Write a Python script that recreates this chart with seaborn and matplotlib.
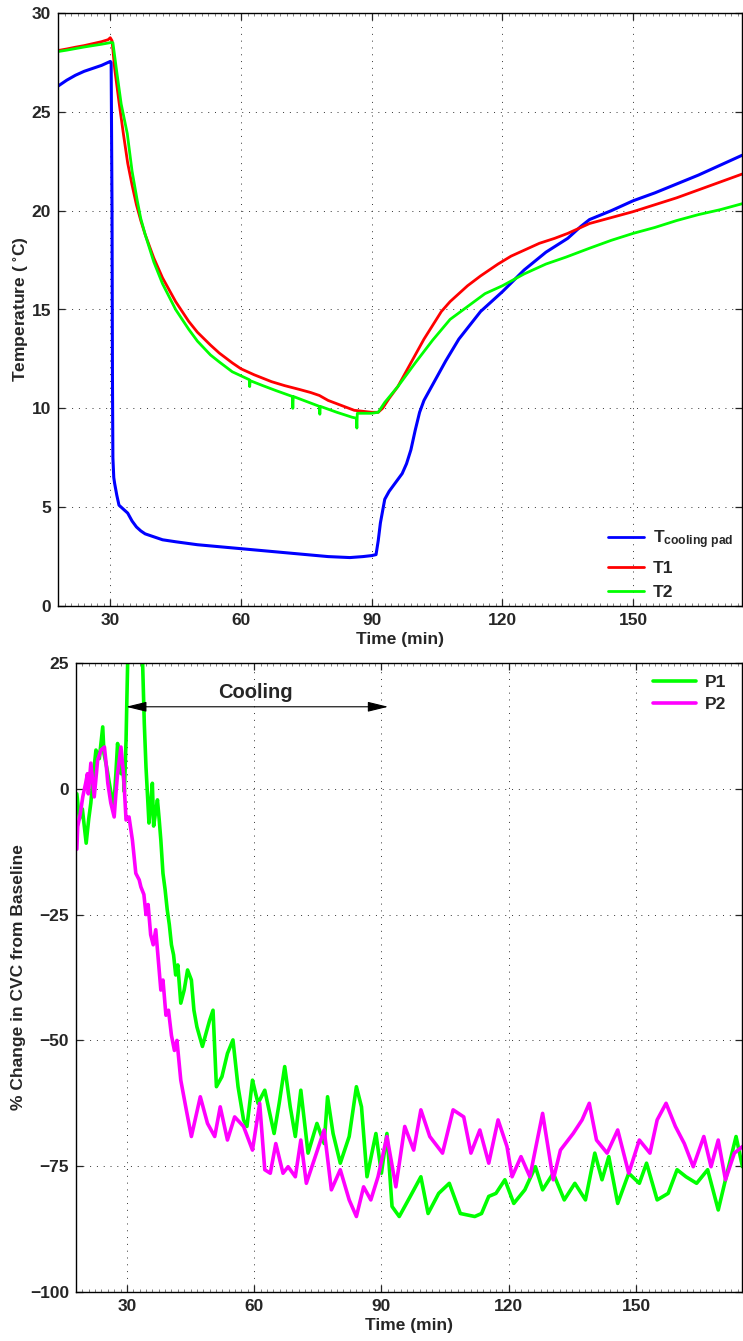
import numpy as np
import pandas as pd
import matplotlib
matplotlib.use("Agg")
import matplotlib.pyplot as plt
from matplotlib.ticker import MultipleLocator, FixedLocator
import seaborn as sns

# ---------------- data: top panel (temperature) ----------------
pad_t = [18, 20, 22, 24, 26, 28, 29.5, 30.0, 30.2, 30.4, 30.5, 30.6, 30.8, 31.0, 31.5, 32.0, 33.0,
         34.0, 35.0, 36.0, 37.0, 38.0, 40.0, 42.0, 45.0, 50.0, 55.0, 60.0, 65.0, 70.0, 75.0, 80.0,
         85.0, 88.0, 90.0, 91.0, 91.5, 92.0, 93.0, 94.0, 95.0, 97.0, 98.0, 99.0, 100.0, 101.0,
         102.0, 104.0, 107.0, 110.0, 115.0, 120.0, 125.0, 130.0, 135.0, 138.0, 140.0, 145.0,
         150.0, 155.0, 160.0, 165.0, 170.0, 175.0]
pad_T = [26.3, 26.6, 26.85, 27.05, 27.2, 27.35, 27.5, 27.55, 27.5, 20.0, 11.5, 7.5, 6.5, 6.2, 5.6,
         5.1, 4.9, 4.7, 4.3, 4.0, 3.8, 3.65, 3.5, 3.35, 3.25, 3.1, 3.0, 2.9, 2.8, 2.7, 2.6, 2.5,
         2.45, 2.5, 2.55, 2.6, 3.3, 4.2, 5.4, 5.8, 6.1, 6.7, 7.2, 7.9, 8.9, 9.8, 10.4, 11.2, 12.4,
         13.5, 14.9, 15.9, 17.0, 17.9, 18.6, 19.2, 19.55, 20.0, 20.5, 20.9, 21.35, 21.8, 22.3, 22.8]

t1_t = [18, 20, 22, 24, 26, 28, 29.5, 30.0, 30.4, 31.0, 32.0, 33.0, 34.0, 35.0, 36.0, 37.0, 38.0,
        40.0, 42.0, 45.0, 48.0, 50.0, 53.0, 55.0, 58.0, 60.0, 63.0, 67.0, 70.0, 73.5, 76.0, 78.0,
        80.0, 83.0, 86.0, 88.0, 90.0, 91.5, 92.5, 94.0, 96.0, 98.0, 100.0, 102.0, 104.0, 106.0,
        108.0, 110.0, 112.0, 115.0, 119.0, 122.0, 125.0, 128.5, 132.0, 135.0, 138.0, 140.0,
        145.0, 150.0, 155.0, 160.0, 165.0, 170.0, 175.0]
t1_T = [28.1, 28.18, 28.27, 28.35, 28.45, 28.55, 28.65, 28.75, 28.6, 27.2, 25.5, 23.9, 22.4, 21.3,
        20.3, 19.5, 18.8, 17.6, 16.6, 15.4, 14.4, 13.85, 13.2, 12.8, 12.3, 12.0, 11.7, 11.35,
        11.15, 10.95, 10.8, 10.65, 10.4, 10.15, 9.9, 9.85, 9.8, 9.8, 10.0, 10.5, 11.1, 11.9, 12.7,
        13.5, 14.2, 14.9, 15.4, 15.8, 16.2, 16.7, 17.3, 17.7, 18.0, 18.35, 18.6, 18.85, 19.15,
        19.35, 19.65, 19.95, 20.3, 20.65, 21.05, 21.45, 21.85]

t2_t = [18, 20, 22, 24, 26, 28, 30.0, 30.6, 31.5, 32.5, 33.9, 35.0, 36.2, 37.0, 38.0, 40.0, 42.0,
        45.0, 48.0, 50.0, 53.0, 55.0, 58.0, 61.9, 62.0, 62.1, 65.0, 68.0, 71.8, 71.9, 72.0, 75.0,
        78.0, 78.1, 78.2, 82.0, 85.5, 86.5, 86.6, 86.7, 88.0, 90.0, 91.5, 93.0, 96.0, 100.0,
        104.0, 108.0, 111.7, 116.0, 120.0, 125.0, 130.0, 134.6, 140.0, 145.0, 150.0, 155.0,
        160.0, 165.0, 170.0, 175.0]
t2_T = [28.05, 28.12, 28.2, 28.28, 28.35, 28.42, 28.5, 28.5, 27.0, 25.4, 23.9, 22.0, 20.5, 19.6,
        18.8, 17.4, 16.3, 15.0, 14.0, 13.4, 12.7, 12.35, 11.85, 11.45, 11.1, 11.4, 11.15, 10.9,
        10.6, 10.0, 10.6, 10.35, 10.1, 9.7, 10.1, 9.8, 9.55, 9.5, 9.0, 9.75, 9.75, 9.75, 9.8,
        10.3, 11.1, 12.3, 13.45, 14.5, 15.1, 15.8, 16.2, 16.8, 17.3, 17.65, 18.1, 18.5, 18.85,
        19.15, 19.5, 19.8, 20.05, 20.35]

# ---------------- data: bottom panel (% change in CVC) ----------------
p1_t = [18.2, 18.8, 19.5, 20.4, 21.0, 21.5, 22.0, 22.7, 23.5, 24.3, 24.6, 25.3, 26.2, 26.9, 27.4,
        27.8, 28.2, 28.6, 29.0, 29.4, 29.8, 30.0, 30.15, 30.3, 31.5, 33.0, 33.7, 34.1, 34.5, 34.9,
        35.2, 35.6, 36.0, 36.3, 36.7, 37.2, 37.6, 38.0, 38.5, 39.0, 39.5, 40.0, 40.5, 41.0, 41.5,
        42.0, 42.7, 43.5, 44.3, 45.2, 45.8, 46.5, 47.8, 49.5, 50.3, 51.1, 52.4, 53.7, 55.0, 56.2,
        57.5, 58.3, 59.6, 60.9, 62.5, 64.7, 65.9, 67.2, 68.5, 69.7, 71.0, 72.7, 74.8, 76.5, 77.3,
        78.6, 80.3, 82.4, 84.1, 85.3, 86.6, 88.7, 90.0, 91.3, 92.5, 94.2, 96.8, 99.3, 101.0,
        103.5, 106.0, 108.6, 112.0, 113.6, 115.3, 117.0, 119.1, 121.2, 123.8, 126.3, 128.0,
        130.5, 133.1, 135.6, 138.1, 140.3, 142.0, 143.6, 145.7, 148.3, 150.8, 152.5, 155.0,
        157.6, 159.7, 161.8, 164.3, 166.9, 169.4, 171.1, 173.6, 175.1]
p1_v = [-1, -6, -4, -10.8, -6, -2.8, 2, 7.7, 6, 12.3, 7, 4, -0.6, -3.6, 3, 9, 6, 3, 5, -0.6, 9.7,
        18, 24, 30, 40, 35, 25, 13, 4.3, -2, -6.8, -3, 1.1, -7.4, -5, -2.2, -6, -10.2, -16.8, -20,
        -24, -27, -31, -33, -37, -35, -42.6, -40, -36, -38, -44, -47.3, -51.2, -46, -44, -59.2,
        -57.2, -52.6, -49.9, -59.2, -65.8, -67.1, -57.9, -62.5, -59.9, -68.5, -62.5, -55.2,
        -63.2, -69.1, -59.9, -72.4, -66.5, -70.5, -61.2, -68.5, -74.4, -69.1, -59.2, -63.2,
        -77.1, -68.5, -76.4, -68.5, -83, -85, -81, -77.1, -84.4, -80.4, -78.4, -84.4, -85,
        -84.4, -81, -80.4, -77.7, -82.4, -79.7, -75.1, -79.7, -76.4, -81.7, -78.4, -81.7,
        -72.4, -77.7, -73.1, -82.4, -76.4, -78.4, -74.4, -81.7, -80.4, -75.7, -77.1, -78.4,
        -75.7, -83.7, -77.7, -69.1, -75.1]

p2_t = [18.2, 18.4, 19.0, 19.6, 20.3, 20.7, 20.9, 21.5, 22.3, 23.1, 23.9, 24.7, 25.1, 25.5, 26.2,
        27.0, 27.4, 27.8, 28.6, 29.2, 29.8, 30.5, 31.3, 32.1, 32.9, 33.3, 34.0, 34.5, 35.0, 35.6,
        36.2, 36.8, 37.5, 38.0, 38.5, 39.2, 39.8, 40.5, 41.2, 41.8, 42.7, 44.0, 45.2, 47.3, 49.0,
        50.7, 52.0, 53.7, 55.4, 57.5, 59.6, 61.3, 62.5, 63.8, 65.1, 66.8, 68.0, 69.7, 71.0, 72.3,
        74.4, 76.5, 78.2, 80.3, 82.4, 84.1, 85.8, 87.5, 89.2, 91.3, 93.4, 95.5, 97.6, 99.3,
        101.4, 104.4, 106.9, 109.4, 111.1, 113.2, 115.3, 117.5, 119.6, 120.8, 122.9, 125.0,
        128.0, 130.5, 132.2, 135.2, 137.3, 139.0, 140.7, 143.2, 145.7, 148.3, 150.8, 153.3,
        155.0, 157.1, 159.3, 161.4, 163.5, 166.0, 167.7, 169.4, 171.1, 173.2, 175.1]
p2_v = [-12, -7.5, -5, -1.6, 1.2, 3, -1, 5.1, -1.6, 5.7, 7.7, 8.3, 5, 1.1, -2.8, -5.6, -1, 3, 8.3,
        3, -6.2, -5.6, -10.2, -16.8, -18.1, -19.5, -21, -25, -23, -29, -31, -28, -35, -40, -38,
        -45, -44, -49, -52, -50, -57.9, -63.8, -69.1, -61.2, -66.5, -69.1, -63.2, -69.8, -65.2,
        -67.1, -71.8, -62.5, -75.7, -76.4, -70.5, -76.4, -75.1, -77.1, -69.8, -78.4, -73.1,
        -67.8, -79.7, -75.7, -81.7, -85, -79.1, -81.7, -77.1, -69.1, -79.1, -67.1, -71.8,
        -63.8, -69.1, -72.4, -63.8, -65.2, -72.4, -67.8, -74.4, -65.8, -71.1, -77.1, -73.1,
        -77.1, -64.5, -77.7, -71.8, -68.5, -65.8, -62.5, -69.8, -72.4, -67.8, -76.4, -69.8,
        -72.4, -65.8, -62.5, -67.1, -70.5, -75.1, -69.1, -75.1, -69.8, -77.7, -72.4, -71.1]

top_labels = ["T$_{\\rm cooling\\ pad}$", "T1", "T2"]
bot_labels = ["P1", "P2"]
x_ticks = [30, 60, 90, 120, 150]
top_yticks = [0, 5, 10, 15, 20, 25, 30]
bot_yticks = [-100, -75, -50, -25, 0, 25]

# ---------------- style ----------------
sns.set_style("ticks")
plt.rcParams["font.family"] = ["Liberation Sans", "DejaVu Sans"]
plt.rcParams["font.weight"] = "bold"
plt.rcParams["axes.labelweight"] = "bold"
plt.rcParams["mathtext.fontset"] = "custom"
plt.rcParams["mathtext.rm"] = "Liberation Sans:bold"
plt.rcParams["mathtext.it"] = "Liberation Sans:bold"
plt.rcParams["mathtext.bf"] = "Liberation Sans:bold"
plt.rcParams["mathtext.default"] = "regular"

fig = plt.figure(figsize=(7.43, 13.41), dpi=100)
ax1 = fig.add_axes([58 / 743, 1 - 606 / 1341, 684 / 743, 593 / 1341])
ax2 = fig.add_axes([76 / 743, 1 - 1292 / 1341, 666 / 743, 629 / 1341])

def style_axes(ax, yticks):
    ax.set_xlim(18, 175)
    ax.set_ylim(yticks[0], yticks[-1])
    ax.xaxis.set_major_locator(FixedLocator(x_ticks))
    ax.yaxis.set_major_locator(FixedLocator(yticks))
    ax.xaxis.set_minor_locator(MultipleLocator(1.5))
    ax.tick_params(which="both", direction="in", top=True, right=True, labelsize=12.5, pad=5)
    ax.tick_params(which="major", length=5, width=0.9)
    ax.tick_params(which="minor", length=2, width=0.4)
    ax.grid(True, which="major", color="0.2", linestyle=(0, (1, 6)), linewidth=0.7)
    for s in ax.spines.values():
        s.set_visible(True)
        s.set_linewidth(1.0)
        s.set_color("black")
    ax.set_xlabel("Time (min)", fontsize=12.5, fontweight="bold", labelpad=3)
    for lbl in ax.get_xticklabels() + ax.get_yticklabels():
        lbl.set_fontweight("bold")

# top panel
sns.lineplot(x=pad_t, y=pad_T, ax=ax1, color="#0000ff", lw=2.2, sort=False, estimator=None, label=top_labels[0])
sns.lineplot(x=t1_t, y=t1_T, ax=ax1, color="#ff0000", lw=2.0, sort=False, estimator=None, label=top_labels[1])
sns.lineplot(x=t2_t, y=t2_T, ax=ax1, color="#00ff00", lw=2.0, sort=False, estimator=None, label=top_labels[2])
style_axes(ax1, top_yticks)
ax1.set_ylabel("Temperature ( $^{\\circ}$C)", fontsize=12.5, fontweight="bold", labelpad=1)
leg1 = ax1.legend(loc="lower right", frameon=False, fontsize=12.5, handlelength=2.1,
                  borderaxespad=0.1, labelspacing=0.55, handletextpad=0.5,
                  bbox_to_anchor=(1.0, -0.005))
for h in leg1.get_lines():
    h.set_linewidth(2.0)

# bottom panel
sns.lineplot(x=p1_t, y=p1_v, ax=ax2, color="#00ff00", lw=2.6, sort=False, estimator=None, label=bot_labels[0])
sns.lineplot(x=p2_t, y=p2_v, ax=ax2, color="#ff00ff", lw=2.6, sort=False, estimator=None, label=bot_labels[1])
style_axes(ax2, bot_yticks)
ax2.set_ylabel("% Change in CVC from Baseline", fontsize=12.5, fontweight="bold", labelpad=3)
leg2 = ax2.legend(loc="upper right", frameon=False, fontsize=12.5, handlelength=2.5,
                  borderaxespad=0.3, labelspacing=0.4, handletextpad=0.5,
                  bbox_to_anchor=(0.995, 1.0))
for h in leg2.get_lines():
    h.set_linewidth(2.6)

ax2.annotate("", xy=(29.8, 16.3), xytext=(91.6, 16.3),
             arrowprops=dict(arrowstyle="<|-|>,head_length=0.9,head_width=0.22",
                             color="black", lw=0.8, mutation_scale=14, shrinkA=0, shrinkB=0))
ax2.text(60.4, 19.2, "Cooling", ha="center", va="center", fontsize=14.5, fontweight="bold")

fig.savefig("out.png", dpi=100)
